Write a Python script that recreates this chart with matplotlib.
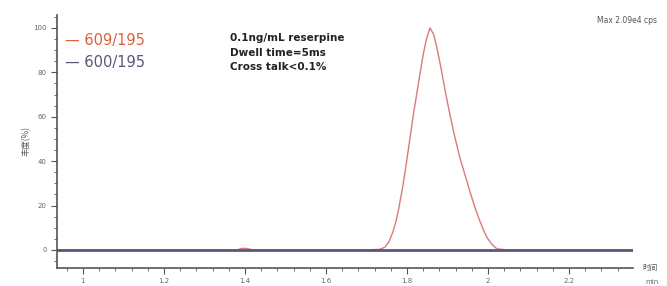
import matplotlib
matplotlib.use('Agg')

import matplotlib.pyplot as plt
from matplotlib.ticker import MultipleLocator

plt.rcParams['font.family'] = ['DejaVu Sans', 'Noto Sans CJK SC']

# chromatogram traces (retention time in min, relative response in %)
rt_609 = [0.936, 1.38, 1.392, 1.405, 1.42, 1.70, 1.733, 1.745, 1.755, 1.765,
          1.773, 1.78, 1.79, 1.80, 1.815, 1.83, 1.84, 1.848, 1.857, 1.866,
          1.874, 1.885, 1.895, 1.906, 1.918, 1.93, 1.943, 1.956, 1.968, 1.98,
          1.99, 1.998, 2.01, 2.022, 2.05, 2.358]
resp_609 = [0, 0, 0.7, 0.7, 0, 0, 0.3, 1.2, 3.5, 8,
            13, 19, 29, 41, 60, 77, 88, 95, 100, 97,
            91, 81, 71, 61, 51, 42, 34, 26, 19, 13,
            8.5, 5.5, 2.5, 0.5, 0, 0]
rt_600 = [0.936, 2.358]
resp_600 = [0, 0]

labels = ['609/195', '600/195']
colors = ['#e0603a', '#555a78']
notes = ['0.1ng/mL reserpine', 'Dwell time=5ms', 'Cross talk<0.1%']
max_text = 'Max 2.09e4 cps'

fig = plt.figure(figsize=(6.67, 2.86), dpi=100)
ax = fig.add_axes([0.0855, 0.063, 0.8635, 0.885])

ax.plot(rt_609, resp_609, color='#d97a7a', lw=1.0)
ax.plot(rt_600, resp_600, color=colors[1], lw=2.0)

ax.set_xlim(0.936, 2.358)
ax.set_ylim(-8.1, 105.9)
ax.xaxis.set_minor_locator(MultipleLocator(0.04))
ax.yaxis.set_major_locator(MultipleLocator(20))
ax.yaxis.set_minor_locator(MultipleLocator(5))
ax.set_xticks([1.0, 1.2, 1.4, 1.6, 1.8, 2.0, 2.2])
ax.set_xticklabels(['1', '1.2', '1.4', '1.6', '1.8', '2', '2.2'])

for s in ['top', 'right']:
    ax.spines[s].set_visible(False)
for s in ['left', 'bottom']:
    ax.spines[s].set_color('#555555')
    ax.spines[s].set_linewidth(1.2)
ax.tick_params(which='both', colors='#555555', labelsize=5, labelcolor='#666666')
ax.tick_params(which='major', length=4, width=0.8)
ax.tick_params(which='minor', length=2.5, width=0.6)
ax.tick_params(axis='x', pad=3)

ax.set_ylabel('丰度(%)', fontsize=6, color='#555555', labelpad=2,
              family=['Noto Sans CJK SC', 'DejaVu Sans'])
ax.text(1.017, 0.0, '时间', transform=ax.transAxes, fontsize=5.5, color='#555555',
        ha='left', va='center', family=['Noto Sans CJK SC', 'DejaVu Sans'])
ax.text(1.022, -0.055, 'min', transform=ax.transAxes, fontsize=5, color='#666666',
        ha='left', va='center')

# legend drawn as text with dashes
for i, (lab, c) in enumerate(zip(labels, colors)):
    fig.text(0.098, 0.858 - i * 0.077, '— ' + lab, color=c, fontsize=10.5,
             va='center', ha='left')

for i, n in enumerate(notes):
    fig.text(0.345, 0.866 - i * 0.051, n, fontsize=7.5, fontweight='bold',
             color='#222222', va='center', ha='left')

fig.text(0.985, 0.93, max_text, fontsize=5.5, color='#555555', ha='right', va='center')

fig.savefig('out.png', dpi=100)
